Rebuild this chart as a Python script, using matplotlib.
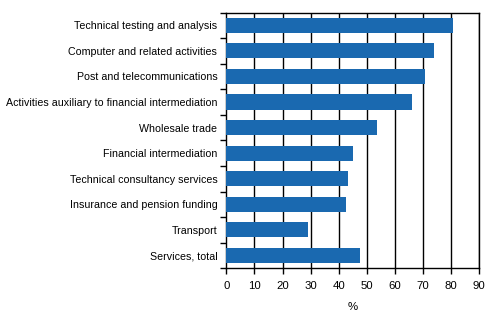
import matplotlib
matplotlib.use("Agg")
import matplotlib.pyplot as plt
import numpy as np

categories = [
    "Technical testing and analysis",
    "Computer and related activities",
    "Post and telecommunications",
    "Activities auxiliary to financial intermediation",
    "Wholesale trade",
    "Financial intermediation",
    "Technical consultancy services",
    "Insurance and pension funding",
    "Transport",
    "Services, total",
]
values = [80.5, 73.8, 70.6, 66.1, 53.6, 45.1, 43.3, 42.6, 29.1, 47.6]
x_ticks = [0, 10, 20, 30, 40, 50, 60, 70, 80, 90]

plt.rcParams["font.family"] = ["Liberation Sans", "DejaVu Sans"]
plt.rcParams["font.size"] = 7.7

fig = plt.figure(figsize=(4.92, 3.24), dpi=100)
ax = fig.add_axes([226.3 / 492, 1 - 268.3 / 324, (479.3 - 226.3) / 492, (268.3 - 12.5) / 324])

n = len(categories)
y = np.arange(n)
ax.barh(y, values, height=0.59, color="#1a69b0", zorder=3)

ax.set_xlim(0, 90)
ax.set_ylim(n - 0.5, -0.5)
ax.set_xticks(x_ticks)
ax.set_xticklabels([str(t) for t in x_ticks], fontsize=8.2)
for t in x_ticks[1:]:
    ax.axvline(t, color="black", linewidth=1.0, zorder=2)

ax.set_yticks(y)
ax.set_yticklabels(categories)
ax.set_yticks(np.arange(-0.5, n, 1.0), minor=True)
ax.tick_params(axis="y", which="major", length=0, pad=6.5)
ax.tick_params(axis="y", which="minor", length=4, width=1, direction="out")
ax.tick_params(axis="x", length=4, width=1, direction="out", pad=5)

for s in ax.spines.values():
    s.set_linewidth(1.0)
    s.set_color("black")

ax.set_xlabel("%", labelpad=8, fontsize=8.2)

fig.savefig("out.png", dpi=100)
